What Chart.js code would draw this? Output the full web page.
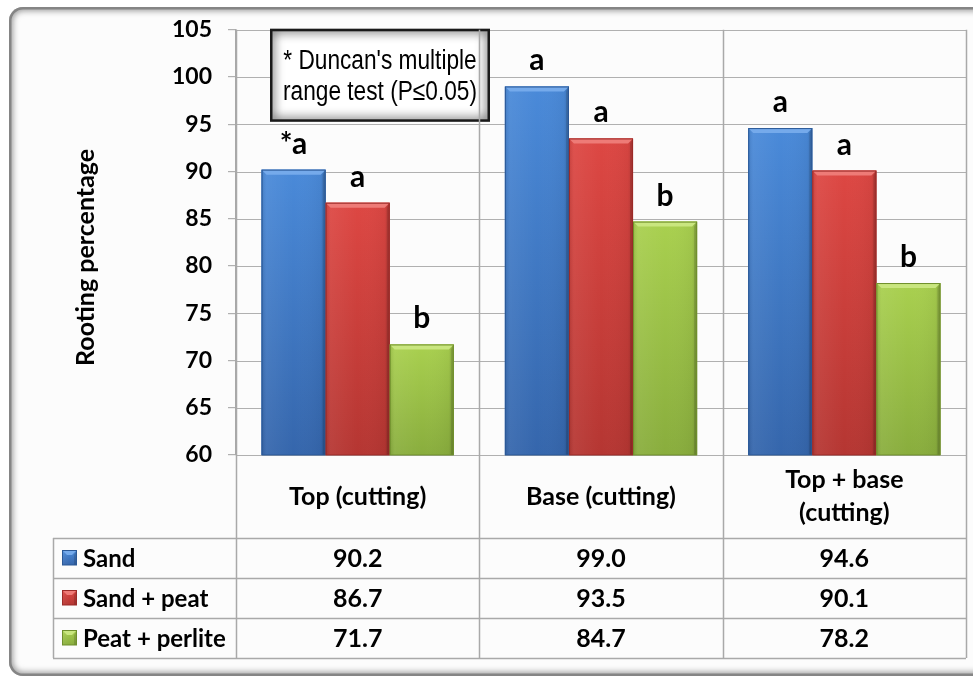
<!DOCTYPE html>
<html>
<head>
<meta charset="utf-8">
<script src="https://cdn.jsdelivr.net/npm/chart.js@4.4.1/dist/chart.umd.min.js"></script>
<style>
  html, body { margin: 0; padding: 0; background: #ffffff; }
  #wrap { width: 973px; height: 682px; }
</style>
</head>
<body>
<div id="wrap"><canvas id="c" width="973" height="682"></canvas></div>
<script>
// Rooting percentage by cutting position and rooting medium
const categories = [['Top (cutting)'], ['Base (cutting)'], ['Top + base', '(cutting)']];
const seriesNames = ['Sand', 'Sand + peat', 'Peat + perlite'];
const sand = [90.2, 99.0, 94.6];
const sandPeat = [86.7, 93.5, 90.1];
const peatPerlite = [71.7, 84.7, 78.2];
const sandLetters = ['*a', 'a', 'a'];
const sandPeatLetters = ['a', 'a', 'a'];
const peatPerliteLetters = ['b', 'b', 'b'];
const yMin = 60, yMax = 105, yStep = 5;
const yTitle = 'Rooting percentage';
const noteLines = ["* Duncan's multiple", 'range test (P\u22640.05)'];

const FONT = 'Lato, "Open Sans", sans-serif';
const palette = [
  { base: '#3f7fd0', top: '#4a8ad9', bottom: '#3566ac', bevel: '#75aaeb', edge: '#2b5896' },
  { base: '#d5403c', top: '#dd4743', bottom: '#b53632', bevel: '#ee7b77', edge: '#9b2b28' },
  { base: '#9cc446', top: '#a9d04f', bottom: '#89ad3d', bevel: '#c9e67f', edge: '#6f8f2c' }
];
const seriesValues = [sand, sandPeat, peatPerlite];
const seriesLetters = [sandLetters, sandPeatLetters, peatPerliteLetters];
const GRID = '#b0b0b0';

// bevelled bar face
function paintBar(ctx, left, top, right, bottom, c) {
  const w = right - left, h = bottom - top;
  if (h <= 0) return;
  const b = Math.min(5, h / 2);
  const g = ctx.createLinearGradient(0, top, 0, bottom);
  g.addColorStop(0, c.top);
  g.addColorStop(1, c.bottom);
  ctx.fillStyle = g;
  ctx.fillRect(left, top, w, h);
  // side shading
  const sg = ctx.createLinearGradient(left, 0, right, 0);
  sg.addColorStop(0, 'rgba(0,0,0,0.10)');
  sg.addColorStop(0.08, 'rgba(255,255,255,0.06)');
  sg.addColorStop(0.5, 'rgba(255,255,255,0.0)');
  sg.addColorStop(0.92, 'rgba(0,0,0,0.04)');
  sg.addColorStop(1, 'rgba(0,0,0,0.18)');
  ctx.fillStyle = sg;
  ctx.fillRect(left, top, w, h);
  // top bevel
  ctx.beginPath();
  ctx.moveTo(left, top);
  ctx.lineTo(right, top);
  ctx.lineTo(right - b, top + b);
  ctx.lineTo(left + b, top + b);
  ctx.closePath();
  ctx.fillStyle = c.bevel;
  ctx.fill();
  // right bevel (shadow side)
  ctx.beginPath();
  ctx.moveTo(right, top);
  ctx.lineTo(right, bottom);
  ctx.lineTo(right - b * 0.6, bottom);
  ctx.lineTo(right - b * 0.6, top + b);
  ctx.closePath();
  ctx.fillStyle = 'rgba(0,0,0,0.12)';
  ctx.fill();
  ctx.strokeStyle = c.edge;
  ctx.lineWidth = 1;
  ctx.strokeRect(left + 0.5, top + 0.5, w - 1, h - 0.5);
}

const framePlugin = {
  id: 'frame',
  beforeDraw(chart) {
    const ctx = chart.ctx;
    ctx.save();
    ctx.fillStyle = '#ffffff';
    ctx.fillRect(0, 0, chart.width, chart.height);
    ctx.beginPath();
    ctx.roundRect(9, 7, 1010, 669, 14);
    ctx.fillStyle = '#fcfcfc';
    ctx.fill();
    ctx.clip();
    ctx.shadowColor = 'rgba(0,0,0,0.6)';
    ctx.shadowBlur = 7;
    ctx.strokeStyle = '#858585';
    ctx.lineWidth = 5;
    ctx.beginPath();
    ctx.roundRect(9, 7, 1010, 669, 14);
    ctx.stroke();
    ctx.restore();
  },
  beforeDatasetsDraw(chart) {
    // horizontal value grid across the plot
    const ctx = chart.ctx;
    const area = chart.chartArea;
    const ys = chart.scales.y;
    ctx.save();
    ctx.strokeStyle = GRID;
    ctx.lineWidth = 1.2;
    ctx.beginPath();
    ys.ticks.forEach(t => {
      const y = Math.round(ys.getPixelForValue(t.value)) + 0.5;
      ctx.moveTo(area.left, y);
      ctx.lineTo(area.right, y);
    });
    ctx.stroke();
    ctx.restore();
  }
};

const barsPlugin = {
  id: 'bevelBars',
  afterDatasetsDraw(chart) {
    const ctx = chart.ctx;
    const area = chart.chartArea;
    ctx.save();
    chart.data.datasets.forEach((ds, di) => {
      const meta = chart.getDatasetMeta(di);
      meta.data.forEach((el, i) => {
        const p = el.getProps(['x', 'y', 'base', 'width'], true);
        const left = p.x - p.width / 2, right = p.x + p.width / 2;
        const bottom = Math.min(p.base, area.bottom);
        paintBar(ctx, left, p.y, right, bottom, palette[di]);
        // significance letter
        ctx.fillStyle = '#000';
        ctx.font = 'bold 30px ' + FONT;
        ctx.textAlign = 'center';
        ctx.textBaseline = 'alphabetic';
        ctx.fillText(seriesLetters[di][i], p.x, p.y - 16);
      });
    });

    // test note box
    const bx = area.left + 34, by = area.top - 1, bw = 220, bh = 93;
    ctx.fillStyle = '#ffffff';
    ctx.fillRect(bx, by, bw, bh);
    ctx.save();
    ctx.beginPath();
    ctx.rect(bx, by, bw, bh);
    ctx.clip();
    ctx.shadowColor = 'rgba(0,0,0,0.85)';
    ctx.shadowBlur = 11;
    ctx.strokeStyle = '#1a1a1a';
    ctx.lineWidth = 5;
    ctx.strokeRect(bx, by, bw, bh);
    ctx.restore();
    ctx.fillStyle = '#000';
    ctx.font = '27px "Liberation Sans", Arial, sans-serif';
    ctx.textAlign = 'center';
    ctx.textBaseline = 'middle';
    [0, 1].forEach(k => {
      ctx.save();
      ctx.translate(bx + bw / 2, by + 33 + k * 31);
      ctx.scale(0.84, 1);
      ctx.fillText(noteLines[k], 0, 0);
      ctx.restore();
    });
    ctx.restore();
  }
};

const tablePlugin = {
  id: 'dataTable',
  afterDraw(chart) {
    const ctx = chart.ctx;
    const area = chart.chartArea;
    const xs = chart.scales.x;
    const n = categories.length;
    const catW = xs.getPixelForValue(1) - xs.getPixelForValue(0);
    const bounds = [];
    for (let i = 0; i < n; i++) bounds.push(xs.getPixelForValue(i) - catW / 2);
    bounds.push(xs.getPixelForValue(n - 1) + catW / 2);
    const catRowBottom = area.bottom + 83;
    const rowH = 40;
    const tableBottom = catRowBottom + seriesNames.length * rowH;
    const tableLeft = 53;

    ctx.save();
    ctx.strokeStyle = '#a9a9a9';
    ctx.lineWidth = 1.5;
    ctx.beginPath();
    bounds.forEach(x => {
      ctx.moveTo(Math.round(x) + 0.5, area.top);
      ctx.lineTo(Math.round(x) + 0.5, tableBottom);
    });
    ctx.moveTo(tableLeft + 0.5, catRowBottom);
    ctx.lineTo(tableLeft + 0.5, tableBottom);
    for (let r = 0; r <= seriesNames.length; r++) {
      const y = Math.round(catRowBottom + r * rowH) + 0.5;
      ctx.moveTo(tableLeft, y);
      ctx.lineTo(bounds[n], y);
    }
    ctx.stroke();

    // category labels
    ctx.fillStyle = '#000';
    ctx.textAlign = 'center';
    ctx.textBaseline = 'middle';
    ctx.font = 'bold 25px ' + FONT;
    const catMid = (area.bottom + catRowBottom) / 2;
    categories.forEach((lines, i) => {
      const cx = xs.getPixelForValue(i);
      const lh = 33;
      lines.forEach((t, k) => {
        ctx.fillText(t, cx, catMid + (k - (lines.length - 1) / 2) * lh);
      });
    });

    // series rows
    seriesNames.forEach((name, r) => {
      const cy = catRowBottom + r * rowH + rowH / 2;
      paintBar(ctx, 62, cy - 8, 77, cy + 7, palette[r]);
      ctx.fillStyle = '#000';
      ctx.textAlign = 'left';
      ctx.font = 'bold 24px ' + FONT;
      ctx.fillText(name, 83, cy + 1);
      ctx.textAlign = 'center';
      ctx.font = 'bold 25px ' + FONT;
      seriesValues[r].forEach((v, i) => {
        ctx.fillText(v.toFixed(1), xs.getPixelForValue(i), cy + 1);
      });
    });

    // value axis title
    ctx.save();
    ctx.translate(area.left - 150, (area.top + area.bottom) / 2 + 15);
    ctx.rotate(-Math.PI / 2);
    ctx.font = 'bold 25px ' + FONT;
    ctx.textAlign = 'center';
    ctx.textBaseline = 'middle';
    ctx.fillText(yTitle, 0, 0);
    ctx.restore();
    ctx.restore();
  }
};

new Chart(document.getElementById('c'), {
  type: 'bar',
  data: {
    labels: categories.map(c => c.join(' ')),
    datasets: seriesNames.map((name, i) => ({
      label: name,
      data: seriesValues[i],
      backgroundColor: palette[i].base,
      borderWidth: 0,
      categoryPercentage: 0.79,
      barPercentage: 1.0
    }))
  },
  options: {
    responsive: false,
    animation: false,
    devicePixelRatio: 1,
    layout: { padding: { left: 0, top: 25, right: 7, bottom: 227 } },
    plugins: { legend: { display: false }, tooltip: { enabled: false } },
    scales: {
      x: {
        offset: true,
        grid: { display: false },
        ticks: { display: false },
        border: { display: false },
        afterFit(s) { s.height = 0; }
      },
      y: {
        min: yMin,
        max: yMax,
        ticks: {
          stepSize: yStep,
          color: '#000',
          padding: 16,
          font: { family: FONT, weight: 'bold', size: 23 }
        },
        grid: { color: GRID, lineWidth: 1.2, tickLength: 8, drawOnChartArea: false },
        border: { color: '#a9a9a9', width: 1.5 },
        afterFit(s) { s.width = 236; }
      }
    }
  },
  plugins: [framePlugin, barsPlugin, tablePlugin]
});
</script>
</body>
</html>
